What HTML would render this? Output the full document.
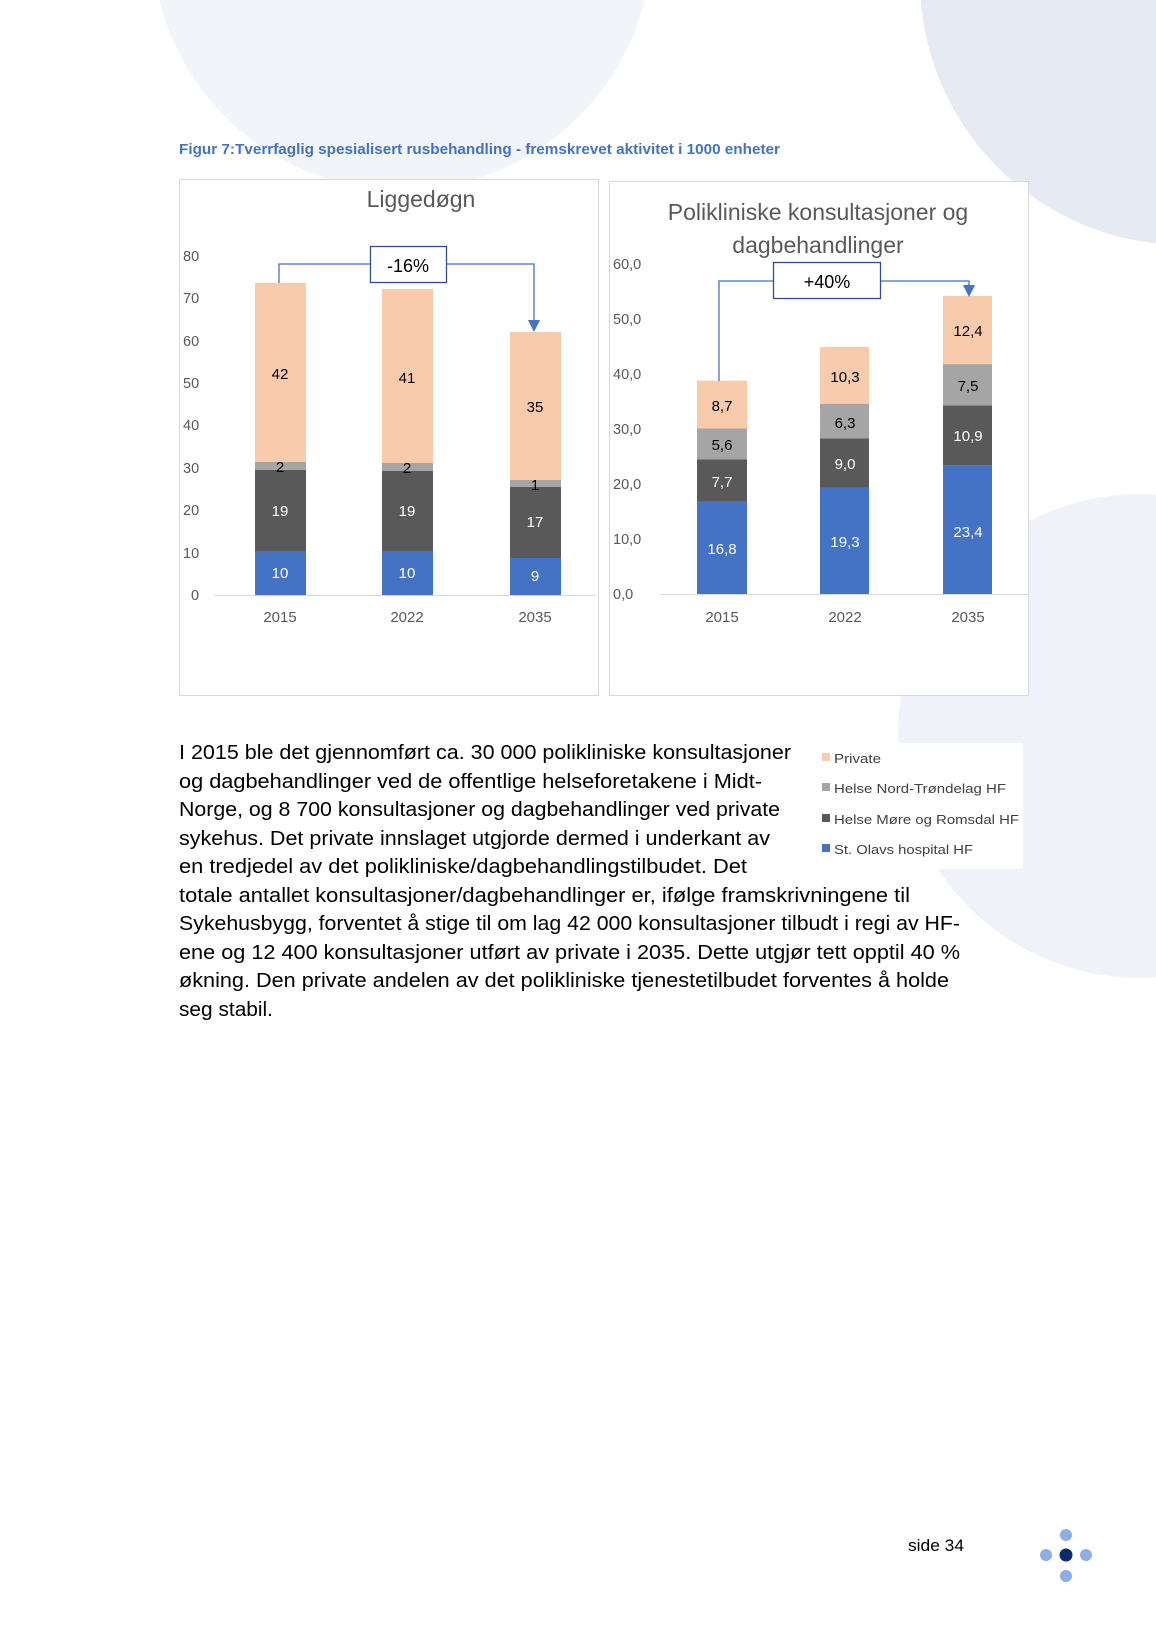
<!DOCTYPE html>
<html><head><meta charset="utf-8"><style>html,body{margin:0;padding:0;background:#fff}svg{display:block}</style></head><body>
<svg width="1156" height="1637" viewBox="0 0 1156 1637" xmlns="http://www.w3.org/2000/svg" font-family="'Liberation Sans', sans-serif">
<circle cx="402" cy="-60" r="250" fill="#f1f4f9"/>
<circle cx="1185" cy="-20" r="265" fill="#e6eaf3"/>
<circle cx="1140" cy="736" r="242" fill="#eff2f8"/>
<text x="179" y="154" font-size="14.5" font-weight="bold" fill="#4472c4" textLength="601" lengthAdjust="spacingAndGlyphs">Figur 7:Tverrfaglig spesialisert rusbehandling - fremskrevet aktivitet i 1000 enheter</text>

<!-- Left chart -->
<rect x="179.5" y="179.5" width="419" height="516" fill="#fff" stroke="#d9d9d9"/>
<text x="421" y="207" font-size="23" fill="#595959" text-anchor="middle">Liggedøgn</text>
<g font-size="14.5" fill="#595959">
<text x="191" y="600">0</text><text x="183" y="558">10</text><text x="183" y="515">20</text><text x="183" y="473">30</text><text x="183" y="430">40</text><text x="183" y="388">50</text><text x="183" y="346">60</text><text x="183" y="303">70</text><text x="183" y="261">80</text>
</g>
<line x1="214" y1="595.5" x2="596" y2="595.5" stroke="#d9d9d9"/>
<rect x="255" y="551" width="51" height="44" fill="#4472c4"/><rect x="255" y="470" width="51" height="81" fill="#595959"/><rect x="255" y="462" width="51" height="8" fill="#a5a5a5"/><rect x="255" y="283" width="51" height="179" fill="#f8cbad"/>
<rect x="382" y="551" width="51" height="44" fill="#4472c4"/><rect x="382" y="471" width="51" height="80" fill="#595959"/><rect x="382" y="463" width="51" height="8" fill="#a5a5a5"/><rect x="382" y="289" width="51" height="174" fill="#f8cbad"/>
<rect x="510" y="558" width="51" height="37" fill="#4472c4"/><rect x="510" y="487" width="51" height="71" fill="#595959"/><rect x="510" y="480" width="51" height="7" fill="#a5a5a5"/><rect x="510" y="332" width="51" height="148" fill="#f8cbad"/>
<g font-size="15" text-anchor="middle">
<text x="280" y="379" fill="#000">42</text><text x="280" y="472" fill="#000">2</text><text x="280" y="516" fill="#fff">19</text><text x="280" y="578" fill="#fff">10</text>
<text x="407" y="383" fill="#000">41</text><text x="407" y="473" fill="#000">2</text><text x="407" y="516" fill="#fff">19</text><text x="407" y="578" fill="#fff">10</text>
<text x="535" y="412" fill="#000">35</text><text x="535" y="490" fill="#000">1</text><text x="535" y="527" fill="#fff">17</text><text x="535" y="581" fill="#fff">9</text>
</g>
<g font-size="15" fill="#595959" text-anchor="middle"><text x="280" y="622">2015</text><text x="407" y="622">2022</text><text x="535" y="622">2035</text></g>
<polyline points="279,283 279,264 371,264" fill="none" stroke="#4472c4" stroke-width="1.3"/>
<polyline points="446,264 534,264 534,322" fill="none" stroke="#4472c4" stroke-width="1.3"/>
<polygon points="528,320 540,320 534,332" fill="#4472c4"/>
<rect x="370.5" y="246.5" width="76" height="36" fill="#fff" stroke="#2f4f8f" stroke-width="1.3"/>
<text x="408" y="272" font-size="18" text-anchor="middle" fill="#000">-16%</text>

<!-- Right chart -->
<rect x="609.5" y="181.5" width="419" height="514" fill="#fff" stroke="#d9d9d9"/>
<text x="818" y="220" font-size="23" fill="#595959" text-anchor="middle">Polikliniske konsultasjoner og</text>
<text x="818" y="253" font-size="23" fill="#595959" text-anchor="middle">dagbehandlinger</text>
<g font-size="14.5" fill="#595959">
<text x="613" y="599">0,0</text><text x="613" y="544">10,0</text><text x="613" y="489">20,0</text><text x="613" y="434">30,0</text><text x="613" y="379">40,0</text><text x="613" y="324">50,0</text><text x="613" y="269">60,0</text>
</g>
<line x1="660" y1="594.5" x2="1028" y2="594.5" stroke="#d9d9d9"/>
<rect x="697" y="501.6" width="50" height="92.4" fill="#4472c4"/><rect x="697" y="459.3" width="50" height="42.3" fill="#595959"/><rect x="697" y="428.5" width="50" height="30.8" fill="#a5a5a5"/><rect x="697" y="380.6" width="50" height="47.9" fill="#f8cbad"/>
<rect x="820" y="487.9" width="49" height="106.1" fill="#4472c4"/><rect x="820" y="438.4" width="49" height="49.5" fill="#595959"/><rect x="820" y="403.7" width="49" height="34.7" fill="#a5a5a5"/><rect x="820" y="347" width="49" height="56.7" fill="#f8cbad"/>
<rect x="943" y="465.3" width="49" height="128.7" fill="#4472c4"/><rect x="943" y="405.4" width="49" height="59.9" fill="#595959"/><rect x="943" y="364.1" width="49" height="41.3" fill="#a5a5a5"/><rect x="943" y="295.9" width="49" height="68.2" fill="#f8cbad"/>
<g font-size="15" text-anchor="middle">
<text x="722" y="411" fill="#000">8,7</text><text x="722" y="450" fill="#000">5,6</text><text x="722" y="487" fill="#fff">7,7</text><text x="722" y="554" fill="#fff">16,8</text>
<text x="845" y="382" fill="#000">10,3</text><text x="845" y="428" fill="#000">6,3</text><text x="845" y="469" fill="#fff">9,0</text><text x="845" y="547" fill="#fff">19,3</text>
<text x="968" y="336" fill="#000">12,4</text><text x="968" y="391" fill="#000">7,5</text><text x="968" y="441" fill="#fff">10,9</text><text x="968" y="537" fill="#fff">23,4</text>
</g>
<g font-size="15" fill="#595959" text-anchor="middle"><text x="722" y="622">2015</text><text x="845" y="622">2022</text><text x="968" y="622">2035</text></g>
<polyline points="719,381 719,281 773,281" fill="none" stroke="#4472c4" stroke-width="1.3"/>
<polyline points="880,281 969,281 969,287" fill="none" stroke="#4472c4" stroke-width="1.3"/>
<polygon points="963,285 975,285 969,297" fill="#4472c4"/>
<rect x="773.5" y="262.5" width="107" height="36" fill="#fff" stroke="#2f4f8f" stroke-width="1.3"/>
<text x="827" y="288" font-size="18" text-anchor="middle" fill="#000">+40%</text>

<!-- Legend -->
<rect x="820" y="743" width="203" height="126" fill="#fff"/>
<g font-size="13" fill="#404040">
<rect x="822" y="753" width="8" height="8" fill="#f8cbad"/><text x="834" y="763" textLength="47" lengthAdjust="spacingAndGlyphs">Private</text>
<rect x="822" y="783" width="8" height="8" fill="#a5a5a5"/><text x="834" y="793" textLength="172" lengthAdjust="spacingAndGlyphs">Helse Nord-Trøndelag HF</text>
<rect x="822" y="814" width="8" height="8" fill="#595959"/><text x="834" y="824" textLength="185" lengthAdjust="spacingAndGlyphs">Helse Møre og Romsdal HF</text>
<rect x="822" y="844" width="8" height="8" fill="#4472c4"/><text x="834" y="854" textLength="139" lengthAdjust="spacingAndGlyphs">St. Olavs hospital HF</text>
</g>

<!-- Paragraph -->
<g font-size="20" fill="#000">
<text x="179" y="759" textLength="612" lengthAdjust="spacingAndGlyphs">I 2015 ble det gjennomført ca. 30 000 polikliniske konsultasjoner</text>
<text x="179" y="788" textLength="583" lengthAdjust="spacingAndGlyphs">og dagbehandlinger ved de offentlige helseforetakene i Midt-</text>
<text x="179" y="816" textLength="601" lengthAdjust="spacingAndGlyphs">Norge, og 8 700 konsultasjoner og dagbehandlinger ved private</text>
<text x="179" y="845" textLength="591" lengthAdjust="spacingAndGlyphs">sykehus. Det private innslaget utgjorde dermed i underkant av</text>
<text x="179" y="873" textLength="568" lengthAdjust="spacingAndGlyphs">en tredjedel av det polikliniske/dagbehandlingstilbudet. Det</text>
<text x="179" y="902" textLength="731" lengthAdjust="spacingAndGlyphs">totale antallet konsultasjoner/dagbehandlinger er, ifølge framskrivningene til</text>
<text x="179" y="930" textLength="781" lengthAdjust="spacingAndGlyphs">Sykehusbygg, forventet å stige til om lag 42 000 konsultasjoner tilbudt i regi av HF-</text>
<text x="179" y="959" textLength="781" lengthAdjust="spacingAndGlyphs">ene og 12 400 konsultasjoner utført av private i 2035. Dette utgjør tett opptil 40 %</text>
<text x="179" y="987" textLength="770" lengthAdjust="spacingAndGlyphs">økning. Den private andelen av det polikliniske tjenestetilbudet forventes å holde</text>
<text x="179" y="1016" textLength="94" lengthAdjust="spacingAndGlyphs">seg stabil.</text>
</g>

<text x="908" y="1551" font-size="17" fill="#000" textLength="56" lengthAdjust="spacingAndGlyphs">side 34</text>
<circle cx="1066" cy="1535" r="6" fill="#8eaee6"/>
<circle cx="1046" cy="1555" r="6" fill="#8eaee6"/>
<circle cx="1066" cy="1555" r="6.5" fill="#0b2a6e"/>
<circle cx="1086" cy="1555" r="6" fill="#8eaee6"/>
<circle cx="1066" cy="1576" r="6" fill="#8eaee6"/>
</svg>
</body></html>
